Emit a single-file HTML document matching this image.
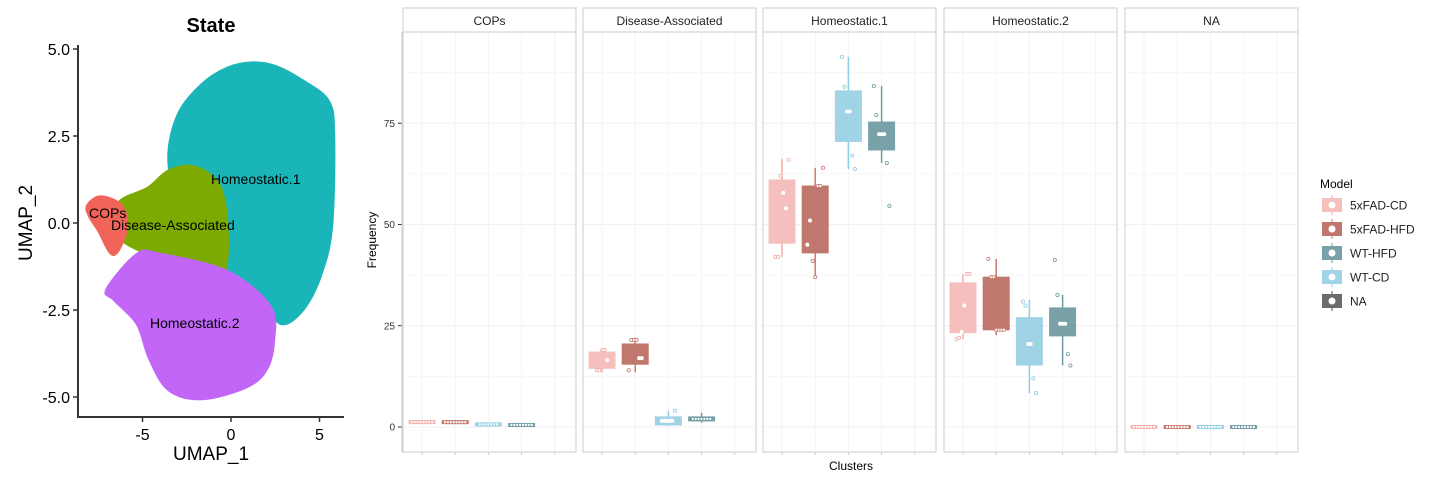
<!DOCTYPE html>
<html><head><meta charset="utf-8">
<style>
html,body{margin:0;padding:0;background:#fff;}
svg{display:block;font-family:"Liberation Sans",Arial,sans-serif;}
</style></head>
<body>
<svg id="root" width="1440" height="480" viewBox="0 0 1440 480" xmlns="http://www.w3.org/2000/svg">
  <g id="umap">
    <text x="211" y="32" font-size="20" font-weight="bold" text-anchor="middle">State</text>
    <g id="umap-cells"></g>
    <line x1="78" y1="45" x2="78" y2="417" stroke="#333" stroke-width="2"/>
    <line x1="77" y1="417" x2="344" y2="417" stroke="#333" stroke-width="2"/>
    <g id="umap-ticks"></g>
    <text x="211" y="460" font-size="19" text-anchor="middle">UMAP_1</text>
    <text x="0" y="0" font-size="19" text-anchor="middle" transform="translate(32,223) rotate(-90)">UMAP_2</text>
    <text x="211" y="184" font-size="14">Homeostatic.1</text>
    <text x="89" y="218" font-size="14">COPs</text>
    <text x="111" y="230" font-size="14">Disease-Associated</text>
    <text x="150" y="328" font-size="14">Homeostatic.2</text>
  </g>
  <g id="box"></g>
  <text x="0" y="0" font-size="12" text-anchor="middle" transform="translate(376,240) rotate(-90)">Frequency</text>
  <text x="851" y="470" font-size="12" text-anchor="middle">Clusters</text>
  <g id="legend">
    <text x="1320" y="188" font-size="12">Model</text>
  </g>
</svg>
<script>
const NS='http://www.w3.org/2000/svg';
const umapXTicks=[-5,0,5];
const umapYTicks=[-5.0,-2.5,0.0,2.5,5.0];
const cyanX=[-0.2,1.2,2.5,4.0,5.5,5.8,5.7,5.2,4.2,2.9,1.9,0.8,-0.5,-1.8,-3.0,-2.6,-3.3,-3.5,-2.9,-1.6];
const cyanY=[4.45,4.6,4.5,4.1,3.5,2.5,0.0,-1.3,-2.4,-2.9,-2.3,-1.7,-1.4,-1.2,-1.0,-0.3,1.0,2.1,3.2,4.0];
const greenX=[-6.3,-4.7,-3.5,-2.0,-0.6,-0.2,-0.6,-2.5,-4.5,-6.0,-6.4];
const greenY=[0.6,1.0,1.5,1.6,1.0,-0.5,-1.6,-1.6,-0.95,-0.55,-0.1];
const purpleX=[-7.0,-5.3,-4.0,-0.2,2.2,2.4,2.0,0.9,-1.6,-3.5,-4.6,-5.3,-6.6];
const purpleY=[-1.9,-0.9,-0.9,-1.4,-2.4,-3.4,-4.2,-4.7,-5.05,-4.8,-3.9,-2.9,-2.2];
const copsX=[-8.1,-7.4,-6.3,-5.9,-6.1,-6.7,-7.5,-8.0];
const copsY=[0.5,0.75,0.55,0.05,-0.5,-0.9,-0.2,0.2];
const ux=v=>231+v*17.7, uy=v=>223-v*34.8;
function el(tag,attrs,parent){const e=document.createElementNS(NS,tag);for(const k in attrs)e.setAttribute(k,attrs[k]);parent.appendChild(e);return e;}
const cells=document.getElementById('umap-cells');
function smoothPath(P){
  const n=P.length;let d='M'+P[0][0].toFixed(1)+','+P[0][1].toFixed(1);
  for(let i=0;i<n;i++){
    const p0=P[(i-1+n)%n],p1=P[i],p2=P[(i+1)%n],p3=P[(i+2)%n];
    const c1=[p1[0]+(p2[0]-p0[0])/6,p1[1]+(p2[1]-p0[1])/6];
    const c2=[p2[0]-(p3[0]-p1[0])/6,p2[1]-(p3[1]-p1[1])/6];
    d+='C'+c1.map(v=>v.toFixed(1)).join(',')+' '+c2.map(v=>v.toFixed(1)).join(',')+' '+p2.map(v=>v.toFixed(1)).join(',');
  }
  return d+'Z';
}
function blob(xs,ys,col,name){
  const P=xs.map((x,i)=>[ux(x),uy(ys[i])]);
  const p=el('path',{d:smoothPath(P),fill:col,stroke:col,'stroke-width':3,'stroke-linejoin':'round'},cells);
  
  
}
blob(cyanX,cyanY,'#1AB5B8','cluster-homeostatic-1');
blob(greenX,greenY,'#7CAA00','cluster-disease-associated');
blob(purpleX,purpleY,'#C266F7','cluster-homeostatic-2');
blob(copsX,copsY,'#F0645A','cluster-cops');
const ut=document.getElementById('umap-ticks');
umapXTicks.forEach(v=>{
  const l=el('line',{x1:ux(v),x2:ux(v),y1:417,y2:422,stroke:'#333','stroke-width':1.5},ut);
  
  const t=el('text',{x:ux(v),y:440,'font-size':16,'text-anchor':'middle'},ut);t.textContent=v;
  
});
umapYTicks.forEach(v=>{
  const l=el('line',{x1:73,x2:78,y1:uy(v),y2:uy(v),stroke:'#333','stroke-width':1.5},ut);
  
  const t=el('text',{x:70,y:uy(v)+6,'font-size':16,'text-anchor':'end'},ut);t.textContent=v.toFixed(1);
  
});

const clusters=['COPs','Disease-Associated','Homeostatic.1','Homeostatic.2','NA'];
const models=['5xFAD-CD','5xFAD-HFD','WT-HFD','WT-CD','NA'];
const yTicks=[0,25,50,75];
const statsCOPs=[[0.9,1.0,1.1,1.4,1.4],[0.9,1.0,1.1,1.4,1.4],[0.3,0.4,0.6,0.9,1.0],[0.2,0.3,0.5,0.7,0.8]];
const statsDA=[[13.5,14.5,16.5,18.5,19.5],[13.5,15.5,17,20.5,22],[0.3,0.5,1.5,2.5,4.0],[1.0,1.5,2.0,2.5,3.5]];
const statsH1=[[42,45.4,54,61,66.2],[36.8,43,50.5,59.5,64],[63.7,70.5,77.9,83,91.4],[65.2,68.4,72.3,75.3,84.2]];
const statsH2=[[21.7,23.3,30,35.6,37.8],[22.7,24,30,37,41.5],[8.4,15.3,20.5,27,31.4],[15.2,22.5,25.5,29.4,32.6]];
const statsNA=[[0,0,0,0,0],[0,0,0,0,0],[0,0,0,0,0],[0,0,0,0,0]];
const ptsCOPs=[[1.1,1.1,1.1,1.1,1.1,1.1,1.1,1.1],[1.1,1.1,1.1,1.1,1.1,1.1,1.1,1.1],[0.6,0.6,0.6,0.6,0.6,0.6,0.6],[0.5,0.5,0.5,0.5,0.5,0.5,0.5,0.5]];
const ptsDA=[[14,14,19,19,16.5],[14,21.5,21.5,21.5,17,17],[1.5,1.5,1.5,1.5,1.5,4],[2,2,2,2,2,2,2]];
const ptsH1=[[42,42,62,57.8,54,66],[45,51,41,37,59.5,59.5,64],[91.4,84,77.9,77.9,67,63.7],[84.2,77,72.3,72.3,72.3,65.2,54.6]];
const ptsH2=[[21.7,22,23.5,30,37.8,37.8],[41.5,37,37,24,24,24,24],[31,30,20.5,20.5,12,8.4],[41.2,32.6,25.5,25.5,25.5,18,15.2]];
const ptsNA=[[0,0,0,0,0,0,0,0],[0,0,0,0,0,0,0,0],[0,0,0,0,0,0,0,0],[0,0,0,0,0,0,0,0]];
const allStats=[statsCOPs,statsDA,statsH1,statsH2,statsNA];
const allPts=[ptsCOPs,ptsDA,ptsH1,ptsH2,ptsNA];
const fills=['#F4BFBD','#C0776D','#A0D3E6','#78A1A8'];
const lines=['#F4AAA8','#C97A70','#8CCCE4','#6C9AA1'];
const slot=[0,1,2,3];
const legFill=['#F4BFBD','#C0776D','#78A1A8','#A0D3E6','#6B6B6B'];
const legLine=['#F4AAA8','#C97A70','#6C9AA1','#8CCCE4','#555'];

const panelL=[403,583,763,944,1125], panelW=173, pTop=32, pBot=452;
const yS=v=>427-v*4.05;
const box=document.getElementById('box');
clusters.forEach((c,pi)=>{
  const g=el('g',{},box);
  
  
  const x0=panelL[pi];
  const sx=i=>x0+19+i*33.2;
  yTicks.forEach(v=>{const l=el('line',{x1:x0,x2:x0+panelW,y1:yS(v),y2:yS(v),stroke:'#f0f0f0','stroke-width':1},g);
    });
  [12.5,37.5,62.5,87.5].forEach(v=>{const l=el('line',{x1:x0,x2:x0+panelW,y1:yS(v),y2:yS(v),stroke:'#f7f7f7','stroke-width':1},g);
    });
  for(let i=0;i<5;i++){const l=el('line',{x1:sx(i),x2:sx(i),y1:pTop,y2:pBot,stroke:'#f3f3f3'},g);
    
    const t=el('line',{x1:sx(i),x2:sx(i),y1:pBot,y2:pBot+3,stroke:'#ccc'},g);
    }
  const s=el('rect',{x:x0,y:8,width:panelW,height:24,fill:'#fff',stroke:'#ccc','stroke-width':1},g);
  
  const st=el('text',{x:x0+panelW/2,y:25,'font-size':12,'text-anchor':'middle',fill:'#222'},g);st.textContent=c;
  
  const fr=el('rect',{x:x0,y:pTop,width:panelW,height:pBot-pTop,fill:'none',stroke:'#ccc','stroke-width':1},g);
  
  allStats[pi].forEach((st5,gi)=>{
    const cx=sx(slot[gi]);
    const wl=el('line',{x1:cx,x2:cx,y1:yS(st5[0]),y2:yS(st5[4]),stroke:lines[gi],'stroke-width':1.5},g);
    
    const raw=yS(st5[1])-yS(st5[3]);
    const h=Math.max(3,raw);
    const mid=(yS(st5[1])+yS(st5[3]))/2;
    const r=el('rect',{x:cx-13,y:mid-h/2,width:26,height:h,fill:fills[gi],stroke:fills[gi],'stroke-width':1},g);
    
    const pts=allPts[pi][gi];
    const n=pts.length;
    const flat=raw<6;
    pts.forEach((v,k)=>{
      const inBox=!flat&&v>st5[1]&&v<st5[3];
      const dx=(k-(n-1)/2)*(flat?2.9:2.6);
      const cc=el('circle',{cx:cx+dx,cy:flat?mid:yS(v),r:1.6,fill:'#fff',stroke:inBox?'#fff':lines[gi],'stroke-width':0.8},g);
      
    });
  });
});
yTicks.forEach(v=>{
  const l=el('line',{x1:398,x2:402,y1:yS(v),y2:yS(v),stroke:'#333'},box);
  
  const t=el('text',{x:395,y:yS(v)+3.5,'font-size':10,'text-anchor':'end',fill:'#333'},box);t.textContent=v;
  
});
const ya=el('line',{x1:402,x2:402,y1:pTop,y2:pBot,stroke:'#ccc'},box);

const leg=document.getElementById('legend');
models.forEach((m,i)=>{
  const cy=205+i*24;
  const g=el('g',{},leg);
  
  
  el('line',{x1:1332,x2:1332,y1:cy-10,y2:cy+10,stroke:legLine[i],'stroke-width':1},g);
  el('rect',{x:1322,y:cy-7,width:20,height:14,fill:legFill[i]},g);
  el('circle',{cx:1332,cy:cy,r:3.5,fill:'#fff'},g);
  const t=el('text',{x:1350,y:cy+4.5,'font-size':12,fill:'#222'},g);t.textContent=m;
});
</script>
</body></html>
